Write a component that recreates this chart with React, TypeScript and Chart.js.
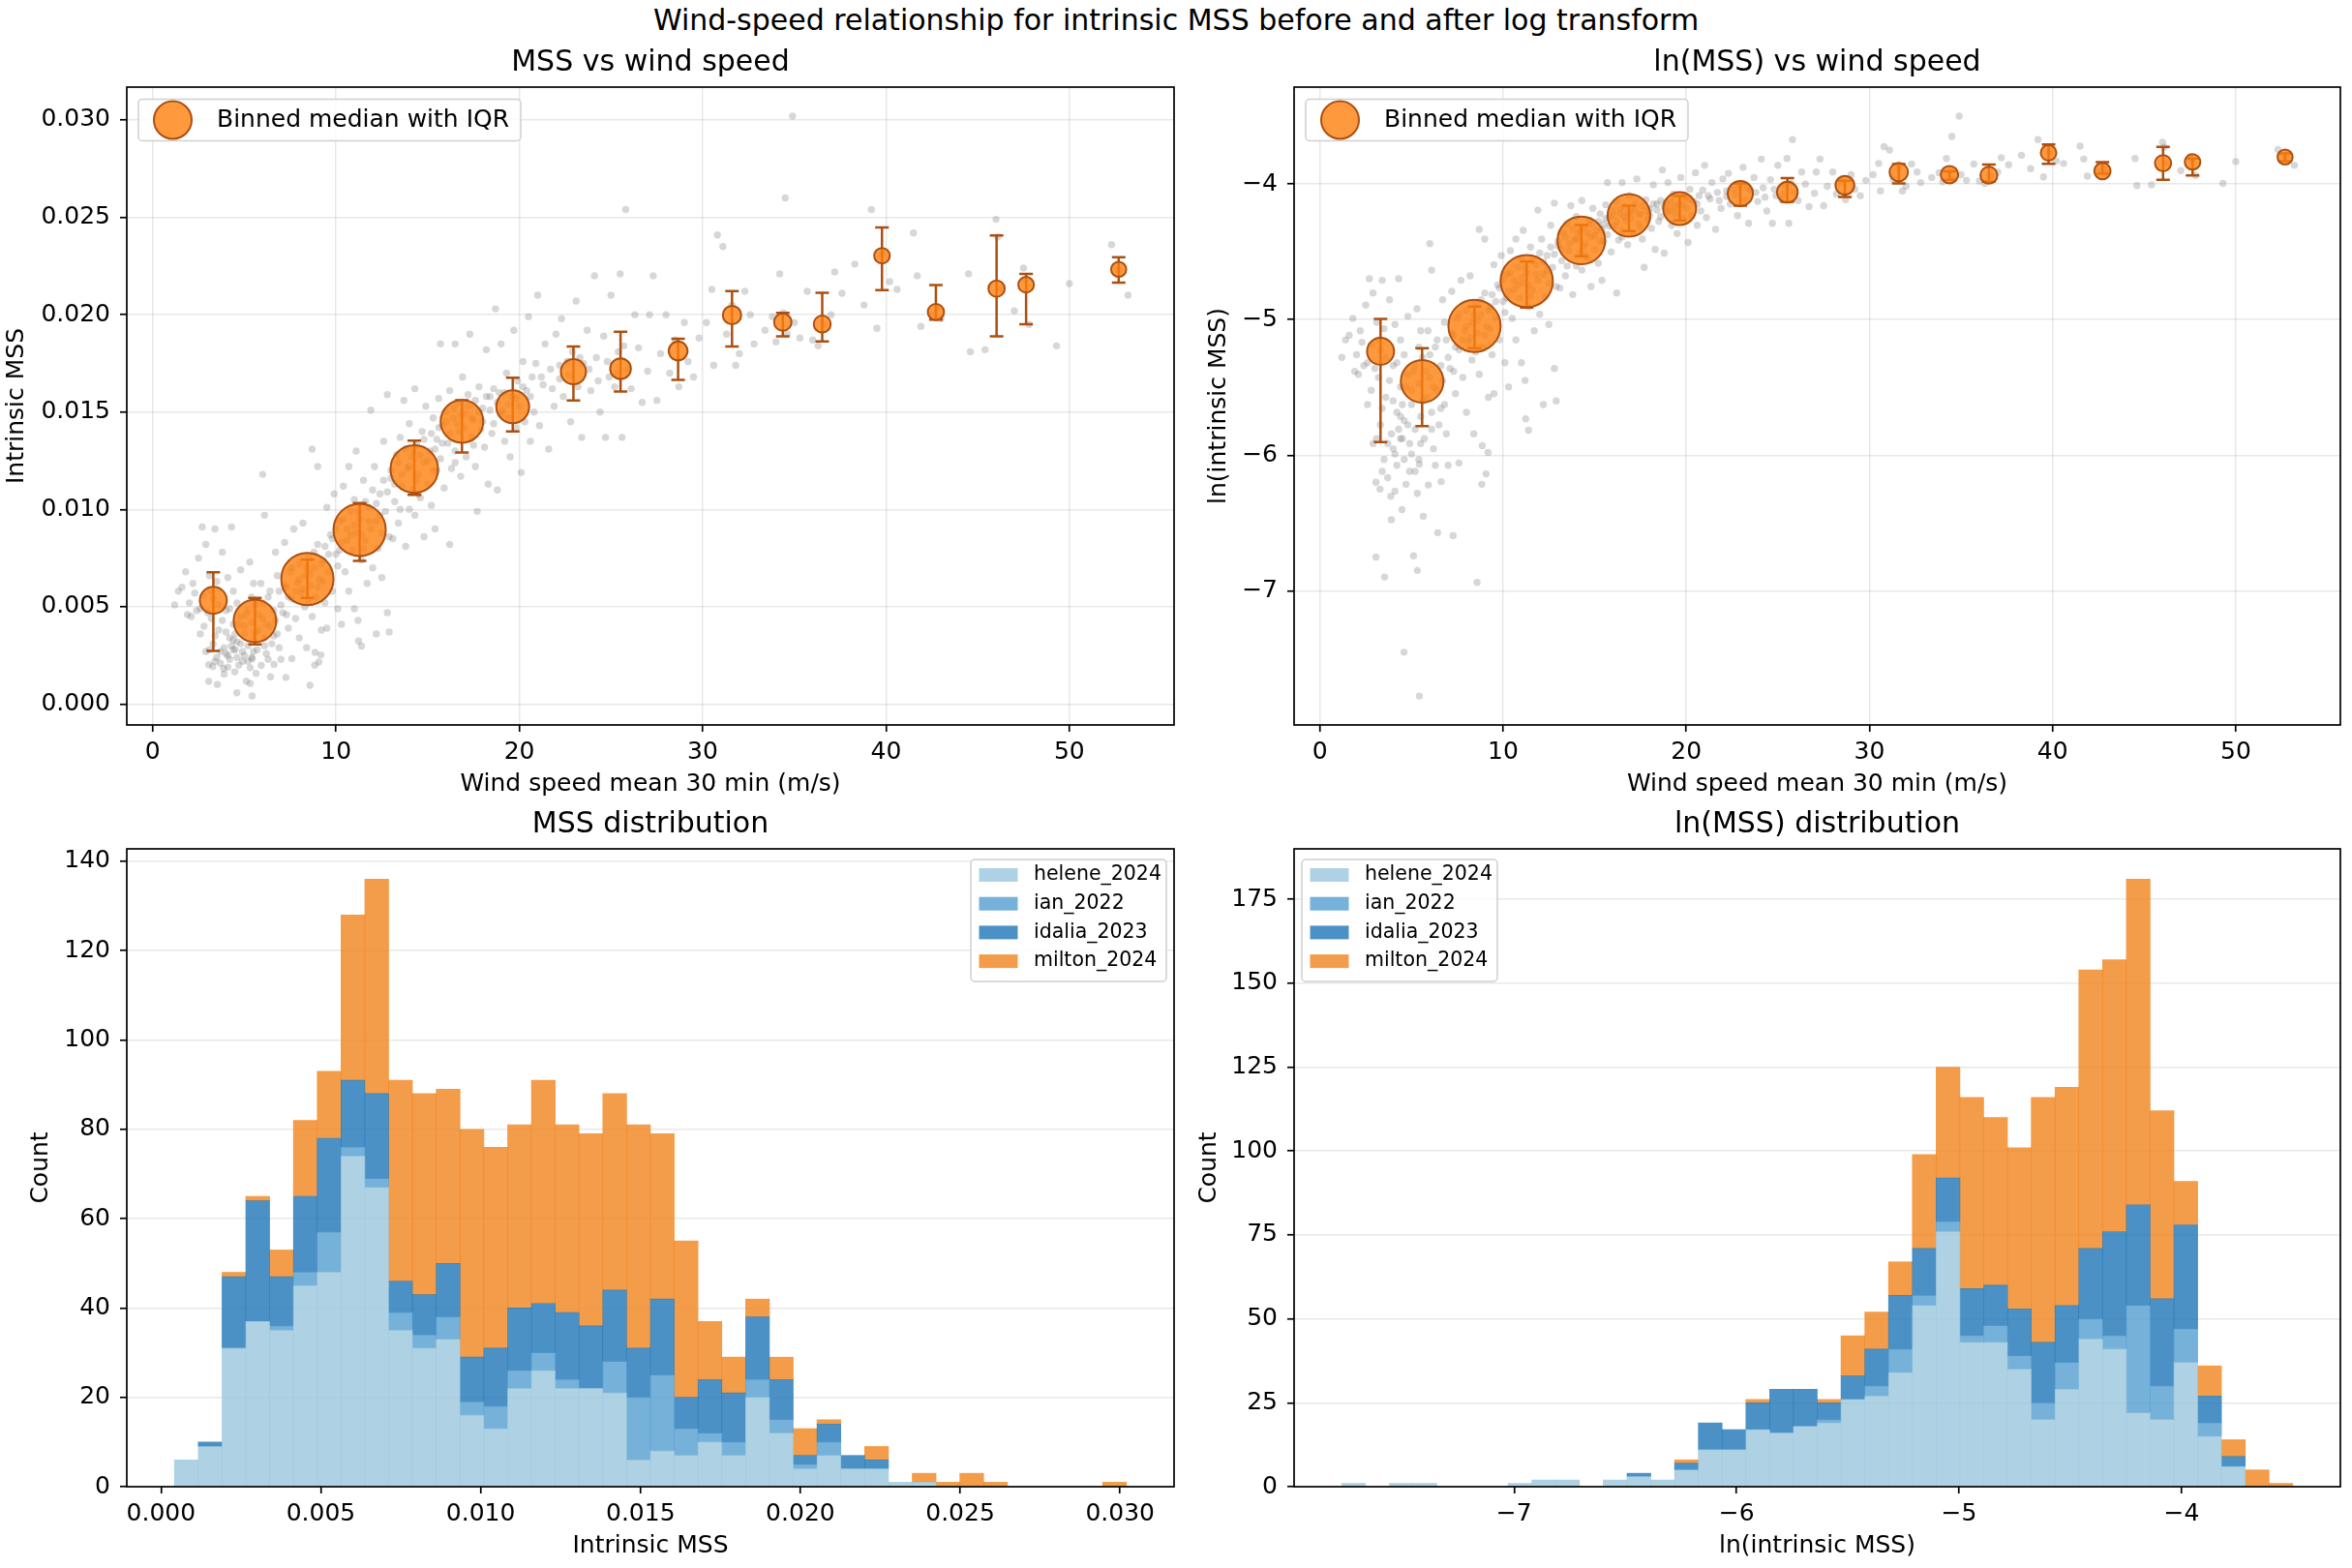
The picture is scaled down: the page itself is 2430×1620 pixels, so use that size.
import React, { useEffect, useRef } from 'react';
import { Chart, registerables } from 'chart.js';

Chart.register(...registerables);

const FONT = "'DejaVu Sans', 'Liberation Sans', sans-serif";
Chart.defaults.font.family = FONT;
Chart.defaults.color = '#000';

// gray cloud: [wind speed mean 30 min (m/s), intrinsic MSS]
const cloudPoints: [number, number][] = [
  [1.2, 0.0051], [1.4, 0.0058], [1.6, 0.006], [1.8, 0.0068], [1.9, 0.0046], [2.1, 0.0045], [2.2, 0.0062], [2.4, 0.0048],
  [2.5, 0.0075], [2.6, 0.0036], [2.7, 0.0091], [2.8, 0.0056], [2.9, 0.0027], [2.9, 0.0082], [3.06, 0.00117], [3.06, 0.00203],
  [3.1, 0.0066], [3.2, 0.0044], [3.28, 0.00193], [3.3, 0.0031], [3.3, 0.0054], [3.4, 0.009], [3.53, 0.00101], [3.5, 0.0024],
  [3.5, 0.0063], [3.6, 0.0038], [3.7, 0.0021], [3.8, 0.0078], [3.87, 0.00183], [3.9, 0.00154], [3.9, 0.0029], [4.0, 0.0048],
  [4.1, 0.0065], [4.1, 0.0025], [4.2, 0.0034], [4.3, 0.0091], [4.3, 0.003], [4.4, 0.0058], [4.48, 0.00166], [4.4, 0.0028],
  [4.0, 0.0026], [4.2, 0.0023], [4.5, 0.0028], [4.6, 0.0024], [4.8, 0.0031], [5.0, 0.0025], [5.2, 0.0022], [5.5, 0.0027],
  [4.7, 0.002], [4.4, 0.0033],
  [2.0, 0.0052], [2.3, 0.0057], [2.6, 0.0049], [2.8, 0.004], [3.0, 0.0047], [3.2, 0.0058], [3.4, 0.0035], [3.6, 0.0051],
  [3.8, 0.0043], [4.0, 0.0037], [4.2, 0.0049], [4.4, 0.0041], [4.6, 0.0052], [4.8, 0.0045], [5.0, 0.004], [3.1, 0.0028],
  [3.4, 0.0022], [3.7, 0.0027], [4.1, 0.0019], [4.5, 0.0036],
  [4.59, 0.00058], [4.6, 0.0032], [4.7, 0.0041], [4.8, 0.0069], [4.9, 0.0022], [4.9, 0.0027], [5.0, 0.0036], [5.11, 0.00118],
  [5.1, 0.0046], [5.2, 0.003], [5.32, 0.00187], [5.32, 0.00106], [5.3, 0.0073], [5.4, 0.0024], [5.4, 0.0042], [5.43, 0.00042],
  [5.43, 0.00232], [5.5, 0.0033], [5.6, 0.0051], [5.64, 0.00158], [5.7, 0.0028], [5.8, 0.0038], [5.92, 0.00199], [5.9, 0.0062],
  [6.0, 0.0118], [6.0, 0.0044], [6.1, 0.0034], [6.1, 0.0097], [6.2, 0.0026], [6.3, 0.0055], [6.3, 0.0023], [6.43, 0.0014],
  [6.4, 0.004], [6.5, 0.0031], [6.6, 0.0048], [6.62, 0.00204], [6.7, 0.0078], [6.8, 0.0036], [6.9, 0.0058], [6.9, 0.0029],
  [5.2, 0.0048], [5.4, 0.0055], [5.6, 0.0037], [5.8, 0.0046], [6.0, 0.0052], [6.2, 0.0041], [6.4, 0.0058], [6.6, 0.0035],
  [6.8, 0.0066], [7.0, 0.0051], [7.2, 0.0061], [7.4, 0.0055], [7.6, 0.007], [7.8, 0.0058], [5.5, 0.0062], [6.1, 0.003],
  [6.7, 0.0043], [7.3, 0.0046],
  [7.0, 0.0023], [7.1, 0.0047], [7.2, 0.0083], [7.27, 0.00137], [7.3, 0.006], [7.4, 0.0039], [7.5, 0.0068], [7.59, 0.00234],
  [7.6, 0.0054], [7.7, 0.009], [7.8, 0.0044], [7.9, 0.0062], [8.0, 0.0072], [8.0, 0.0034], [8.1, 0.0057], [8.2, 0.0093],
  [8.3, 0.005], [8.3, 0.0066], [8.4, 0.0029], [8.5, 0.0076], [8.58, 0.00097], [8.6, 0.0061], [8.7, 0.0131], [8.7, 0.0045],
  [8.8, 0.007], [8.84, 0.002], [8.86, 0.00266], [8.9, 0.0055], [9.0, 0.0122], [9.0, 0.0082], [9.07, 0.00216], [9.1, 0.0064],
  [9.18, 0.00253], [9.2, 0.0038], [9.3, 0.0074], [9.4, 0.0052], [9.5, 0.0101], [9.5, 0.0039], [9.6, 0.0068], [9.7, 0.0087],
  [9.8, 0.0058], [9.9, 0.0108],
  [8.0, 0.0064], [8.2, 0.0059], [8.4, 0.007], [8.6, 0.0067], [8.8, 0.0078], [9.0, 0.006], [9.2, 0.0072], [9.4, 0.0081],
  [9.6, 0.0077], [9.8, 0.0085], [10.0, 0.009], [10.2, 0.0079], [10.4, 0.0095], [10.6, 0.0084], [10.8, 0.0087], [8.5, 0.0053],
  [9.3, 0.0063], [10.1, 0.0071],
  [10.0, 0.0077], [10.1, 0.0049], [10.2, 0.0094], [10.3, 0.0041], [10.3, 0.0083], [10.4, 0.0112], [10.5, 0.0068], [10.6, 0.009],
  [10.7, 0.0122], [10.7, 0.0058], [10.8, 0.0099], [10.9, 0.0079], [11.0, 0.0049], [11.0, 0.0105], [11.1, 0.013], [11.1, 0.0088],
  [11.2, 0.0043], [11.23, 0.00324], [11.3, 0.0095], [11.39, 0.00298], [11.4, 0.0074], [11.5, 0.0115], [11.6, 0.0084], [11.7, 0.0062],
  [11.8, 0.0101], [11.9, 0.0151], [11.9, 0.009], [12.0, 0.007], [12.1, 0.0122], [12.2, 0.0036], [12.2, 0.0094], [12.3, 0.008],
  [12.4, 0.0108], [12.5, 0.0065], [12.6, 0.0135], [12.7, 0.0099], [12.8, 0.0047], [12.8, 0.0159], [12.9, 0.0086], [12.9, 0.0037],
  [11.0, 0.0092], [11.2, 0.0099], [11.4, 0.0087], [11.6, 0.0104], [11.8, 0.0094], [12.0, 0.011], [12.2, 0.0103], [12.4, 0.0097],
  [12.6, 0.0115], [12.8, 0.0109], [13.0, 0.012], [13.2, 0.0113], [13.4, 0.0124], [13.6, 0.0118], [13.8, 0.0131], [11.5, 0.008],
  [12.5, 0.0088], [13.5, 0.01],
  [13.0, 0.0116], [13.1, 0.0085], [13.2, 0.0104], [13.3, 0.0128], [13.4, 0.0093], [13.5, 0.0137], [13.6, 0.0112], [13.7, 0.0156],
  [13.8, 0.0081], [13.9, 0.0121], [14.0, 0.01], [14.0, 0.0144], [14.1, 0.0127], [14.2, 0.011], [14.3, 0.0097], [14.3, 0.0162],
  [14.4, 0.0133], [14.5, 0.0118], [14.6, 0.0106], [14.7, 0.014], [14.8, 0.0086], [14.8, 0.0124], [14.9, 0.0153], [15.0, 0.0113],
  [15.1, 0.013], [15.2, 0.0102], [15.3, 0.0147], [15.3, 0.012], [15.4, 0.009], [15.5, 0.0136],
  [14.0, 0.0122], [14.2, 0.013], [14.4, 0.0115], [14.6, 0.0128], [14.8, 0.0136], [15.0, 0.0125], [15.2, 0.0139], [15.4, 0.0131],
  [15.6, 0.0142], [15.8, 0.0134], [16.0, 0.0145], [16.2, 0.0139], [16.4, 0.0152], [16.6, 0.0144], [16.8, 0.0148], [14.5, 0.0108],
  [15.5, 0.012], [16.5, 0.0124],
  [15.6, 0.0157], [15.7, 0.0185], [15.7, 0.0126], [15.8, 0.0143], [15.9, 0.0111], [16.0, 0.015], [16.1, 0.0134], [16.2, 0.0082],
  [16.2, 0.0161], [16.3, 0.0121], [16.4, 0.0147], [16.5, 0.0185], [16.5, 0.013], [16.6, 0.0155], [16.7, 0.014], [16.8, 0.0117],
  [16.9, 0.0168], [17.0, 0.0149], [17.1, 0.0127], [17.2, 0.0159], [17.3, 0.019], [17.4, 0.0137], [17.5, 0.0146], [17.6, 0.0122],
  [17.7, 0.0099], [17.8, 0.0163], [17.9, 0.0141], [18.0, 0.0152], [18.1, 0.0132], [18.2, 0.0182], [18.3, 0.0113], [18.4, 0.0158],
  [17.0, 0.0142], [17.2, 0.0153], [17.4, 0.0147], [17.6, 0.0156], [17.8, 0.015], [18.0, 0.0145], [18.2, 0.0158], [18.4, 0.0151],
  [18.6, 0.0162], [18.8, 0.0155], [19.0, 0.0149], [19.2, 0.016], [19.4, 0.0154], [19.8, 0.0157], [20.2, 0.0163], [20.6, 0.0158],
  [17.5, 0.0133], [18.5, 0.0139],
  [18.6, 0.0144], [18.7, 0.0203], [18.8, 0.011], [18.9, 0.016], [19.0, 0.0185], [19.1, 0.0151], [19.2, 0.0135], [19.3, 0.017],
  [19.4, 0.0147], [19.5, 0.0127], [19.6, 0.0158], [19.7, 0.0192], [19.8, 0.0142], [19.9, 0.0166], [20.0, 0.0153], [20.1, 0.0119],
  [20.2, 0.0176], [20.3, 0.0145], [20.4, 0.0161], [20.5, 0.0199], [20.6, 0.0135], [20.7, 0.0168], [20.8, 0.015], [20.9, 0.0175],
  [21.0, 0.021], [21.1, 0.0143], [21.3, 0.0164], [21.4, 0.0185], [21.6, 0.0131], [21.7, 0.0172], [21.9, 0.0153], [22.0, 0.019],
  [22.2, 0.0167], [22.3, 0.0198], [22.4, 0.0158], [22.6, 0.0176], [22.8, 0.0145], [22.9, 0.0181], [23.1, 0.0207], [23.2, 0.0163],
  [23.4, 0.0137], [23.5, 0.0175], [23.7, 0.0192], [23.9, 0.0161],
  [21.2, 0.0168], [21.8, 0.0162], [22.2, 0.0174], [22.7, 0.0169], [23.3, 0.0178], [23.8, 0.0172], [24.3, 0.0166], [24.8, 0.0176],
  [25.3, 0.017], [25.7, 0.0184],
  [24.1, 0.022], [24.2, 0.0178], [24.4, 0.015], [24.6, 0.0189], [24.7, 0.0137], [24.9, 0.0168], [25.0, 0.021], [25.2, 0.0163],
  [25.4, 0.0181], [25.5, 0.0221], [25.6, 0.0137], [25.8, 0.0254], [25.9, 0.0172], [26.1, 0.0162], [26.3, 0.02], [26.5, 0.0183],
  [26.7, 0.0155], [27.0, 0.0171],
  [27.1, 0.02], [27.3, 0.022], [27.5, 0.0156], [27.7, 0.018], [28.0, 0.02], [28.2, 0.017], [28.5, 0.0187], [28.7, 0.0163],
  [29.0, 0.0196], [29.2, 0.0176], [29.5, 0.0168], [29.8, 0.0188],
  [30.2, 0.0196], [30.5, 0.0213], [30.6, 0.0174], [30.8, 0.0241], [31.1, 0.0235], [31.3, 0.019], [31.6, 0.0205], [31.8, 0.0174],
  [32.0, 0.018], [32.3, 0.0212], [32.6, 0.02], [32.8, 0.0185],
  [33.4, 0.0192], [33.8, 0.0199], [34.0, 0.0186], [34.2, 0.0221], [34.4, 0.0201], [34.5, 0.026], [34.6, 0.019], [34.9, 0.0302],
  [35.0, 0.0196], [35.3, 0.0188],
  [35.7, 0.0212], [36.0, 0.0187], [36.3, 0.0184], [36.6, 0.0195], [37.0, 0.02], [37.2, 0.0222], [37.6, 0.0211],
  [38.3, 0.0226], [38.8, 0.0205], [39.2, 0.0254], [39.5, 0.0193], [39.8, 0.0231], [40.2, 0.0217], [40.6, 0.0213],
  [41.5, 0.0242], [41.7, 0.022], [41.9, 0.0194], [42.5, 0.02], [42.8, 0.0203], [43.0, 0.0198],
  [44.5, 0.0221], [44.6, 0.0181], [45.4, 0.0182], [46.0, 0.0249], [46.1, 0.024], [46.2, 0.0213], [47.0, 0.0202], [47.5, 0.0224],
  [47.6, 0.0218], [47.8, 0.0195],
  [49.3, 0.0184], [50.0, 0.0216], [52.3, 0.0236], [52.7, 0.0223], [53.2, 0.021],
];

// binned medians with inter-quartile range
const binWind = [3.31, 5.58, 8.44, 11.29, 14.27, 16.87, 19.64, 22.95, 25.52, 28.66, 31.6, 34.37, 36.52, 39.78, 42.72, 46.03, 47.64, 52.69];
const binMedian = [0.00533, 0.00427, 0.00643, 0.00895, 0.01207, 0.01452, 0.01527, 0.01707, 0.01723, 0.01814, 0.01998, 0.01962, 0.01952, 0.02303, 0.02014, 0.02134, 0.02154, 0.02233];
const binQ1 = [0.00273, 0.00307, 0.00546, 0.00736, 0.01075, 0.01293, 0.014, 0.01559, 0.01605, 0.01665, 0.01837, 0.01889, 0.01863, 0.02126, 0.01975, 0.01889, 0.01951, 0.02165];
const binQ3 = [0.00677, 0.00546, 0.00742, 0.01033, 0.01353, 0.01561, 0.01676, 0.01837, 0.01912, 0.01876, 0.02121, 0.02009, 0.02113, 0.02448, 0.02152, 0.02407, 0.02209, 0.02295];
const binCount = [70, 215, 337, 337, 275, 215, 117, 57, 30, 20, 18, 13, 11, 5, 8, 8, 5, 3];

// stacked histograms, 40 bins each
const storms = ['helene_2024', 'ian_2022', 'idalia_2023', 'milton_2024'];
const mssBinStart = 0.00042;
const mssBinWidth = 0.0007445;
const mssHelene = [6, 9, 31, 37, 35, 45, 48, 74, 67, 35, 31, 33, 16, 13, 22, 26, 22, 22, 21, 6, 8, 7, 10, 7, 20, 12, 4, 7, 4, 4, 1, 1, 0, 0, 0, 0, 0, 0, 0, 0];
const mssIan = [0, 0, 0, 0, 1, 3, 9, 2, 2, 4, 3, 5, 3, 5, 4, 4, 2, 0, 7, 14, 17, 6, 2, 3, 4, 3, 1, 3, 0, 0, 0, 0, 0, 0, 0, 0, 0, 0, 0, 0];
const mssIdalia = [0, 1, 16, 27, 11, 17, 21, 15, 19, 7, 9, 12, 10, 13, 14, 11, 15, 14, 16, 11, 17, 7, 12, 11, 14, 9, 2, 4, 3, 2, 0, 0, 0, 0, 0, 0, 0, 0, 0, 0];
const mssMilton = [0, 0, 1, 1, 6, 17, 15, 37, 48, 45, 45, 39, 51, 45, 41, 50, 42, 43, 44, 50, 37, 35, 13, 8, 4, 5, 6, 1, 0, 3, 0, 2, 1, 3, 1, 0, 0, 0, 0, 1];

const lnBinStart = -7.775;
const lnBinWidth = 0.106875;
const lnHelene = [1, 0, 1, 1, 0, 0, 0, 1, 2, 2, 0, 2, 3, 2, 5, 11, 11, 17, 16, 18, 19, 26, 27, 34, 54, 76, 43, 43, 35, 20, 29, 44, 41, 22, 20, 37, 15, 6, 0, 0];
const lnIan = [0, 0, 0, 0, 0, 0, 0, 0, 0, 0, 0, 0, 0, 0, 0, 0, 0, 0, 0, 0, 1, 0, 3, 7, 3, 3, 2, 5, 4, 5, 8, 6, 4, 32, 10, 10, 4, 0, 0, 0];
const lnIdalia = [0, 0, 0, 0, 0, 0, 0, 0, 0, 0, 0, 0, 1, 0, 2, 8, 6, 8, 13, 11, 5, 7, 11, 16, 14, 13, 14, 12, 14, 18, 17, 21, 31, 30, 26, 31, 8, 3, 0, 0];
const lnMilton = [0, 0, 0, 0, 0, 0, 0, 0, 0, 0, 0, 0, 0, 0, 1, 0, 0, 1, 0, 0, 1, 12, 11, 10, 28, 33, 57, 50, 48, 73, 65, 83, 81, 97, 56, 13, 9, 5, 5, 1];

const stormColors = ['rgba(154,199,221,0.8)', 'rgba(83,158,206,0.8)', 'rgba(30,117,183,0.8)', 'rgba(240,131,27,0.8)'];
const ORANGE = 'rgba(255,127,14,0.8)';
const EDGE = 'rgb(172,80,18)';
const GRID = 'rgba(0,0,0,0.09)';

const minus = (v: number) => (v < 0 ? '\u2212' + Math.abs(v) : String(v));
const markerRadius = (n: number) => Math.sqrt(55 + 2 * n);

function xAxis(min: number, max: number, step: number, title: string, fmt: (v: number) => string, gridOn = true) {
  return {
    type: 'linear', position: 'bottom', min, max, offset: false, stacked: true,
    afterFit: (s: any) => { s.height = 76; },
    border: { display: false },
    grid: { drawOnChartArea: gridOn, offset: false, color: GRID, lineWidth: 1.5, tickLength: 7, tickColor: '#000', tickWidth: 1.7 },
    ticks: { stepSize: step, includeBounds: false, autoSkip: false, maxRotation: 0, padding: 6, color: '#000', font: { size: 25 }, callback: (v: any) => fmt(Number(v)) },
    title: { display: true, text: title, color: '#000', font: { size: 25 }, padding: { top: 0, bottom: 0 } },
  };
}

function yAxis(min: number, max: number, step: number, title: string, fmt: (v: number) => string, width: number, stacked = false) {
  return {
    type: 'linear', position: 'left', min, max, stacked,
    afterFit: (s: any) => { s.width = width; },
    border: { display: false },
    grid: { color: GRID, lineWidth: 1.5, tickLength: 7, tickColor: '#000', tickWidth: 1.7 },
    ticks: { stepSize: step, includeBounds: false, autoSkip: false, padding: 10, color: '#000', font: { size: 25 }, callback: (v: any) => fmt(Number(v)) },
    title: { display: true, text: title, color: '#000', font: { size: 25 }, padding: { top: 2, bottom: 0 } },
  };
}

function framePlugin(title: string) {
  return {
    id: 'frameAndTitle',
    afterDatasetsDraw(chart: any) {
      const { ctx, chartArea: a } = chart;
      ctx.save();
      ctx.strokeStyle = '#000';
      ctx.lineWidth = 1.7;
      ctx.strokeRect(a.left, a.top, a.right - a.left, a.bottom - a.top);
      ctx.fillStyle = '#000';
      ctx.font = `30px ${FONT}`;
      ctx.textAlign = 'center';
      ctx.textBaseline = 'middle';
      ctx.fillText(title, (a.left + a.right) / 2, a.top - 25);
      ctx.restore();
    },
  };
}

function errorBarPlugin(ys: (v: number) => number) {
  return {
    id: 'errorBars',
    beforeDatasetDraw(chart: any, args: any) {
      if (args.index !== 0) return;
      const { ctx, scales } = chart;
      ctx.save();
      ctx.strokeStyle = EDGE;
      ctx.lineWidth = 2.5;
      binWind.forEach((w, i) => {
        const px = scales.x.getPixelForValue(w);
        const lo = scales.y.getPixelForValue(ys(binQ1[i]));
        const hi = scales.y.getPixelForValue(ys(binQ3[i]));
        ctx.beginPath();
        ctx.moveTo(px, lo); ctx.lineTo(px, hi);
        ctx.moveTo(px - 7, lo); ctx.lineTo(px + 7, lo);
        ctx.moveTo(px - 7, hi); ctx.lineTo(px + 7, hi);
        ctx.stroke();
      });
      ctx.restore();
    },
  };
}

const binLegendPlugin = {
  id: 'binLegend',
  afterDraw(chart: any) {
    const { ctx, chartArea: a } = chart;
    const bx = a.left + 12, by = a.top + 12.5;
    ctx.save();
    ctx.beginPath();
    ctx.roundRect(bx, by, 395, 43, 4);
    ctx.fillStyle = 'rgba(255,255,255,0.8)';
    ctx.fill();
    ctx.strokeStyle = '#d0d0d0';
    ctx.lineWidth = 1.5;
    ctx.stroke();
    ctx.beginPath();
    ctx.arc(bx + 35.5, by + 21.5, 19.5, 0, Math.PI * 2);
    ctx.fillStyle = ORANGE;
    ctx.fill();
    ctx.strokeStyle = EDGE;
    ctx.lineWidth = 2;
    ctx.stroke();
    ctx.fillStyle = '#000';
    ctx.font = `25px ${FONT}`;
    ctx.textBaseline = 'middle';
    ctx.fillText('Binned median with IQR', bx + 81, by + 22);
    ctx.restore();
  },
};

function histLegendPlugin(side: 'left' | 'right') {
  return {
    id: 'histLegend',
    afterDraw(chart: any) {
      const { ctx, chartArea: a } = chart;
      const w = 202, h = 126;
      const bx = side === 'right' ? a.right - 8 - w : a.left + 8;
      const by = a.top + 11;
      ctx.save();
      ctx.beginPath();
      ctx.roundRect(bx, by, w, h, 4);
      ctx.fillStyle = 'rgba(255,255,255,0.8)';
      ctx.fill();
      ctx.strokeStyle = '#d0d0d0';
      ctx.lineWidth = 1.5;
      ctx.stroke();
      ctx.font = `20.5px ${FONT}`;
      ctx.textBaseline = 'middle';
      storms.forEach((name, i) => {
        const cy = by + 16 + i * 29.7;
        ctx.fillStyle = stormColors[i];
        ctx.fillRect(bx + 8.5, cy - 7, 40, 14);
        ctx.fillStyle = '#000';
        ctx.fillText(name, bx + 65, cy);
      });
      ctx.restore();
    },
  };
}

function scatterConfig(log: boolean) {
  const f = (v: number) => (log ? Math.log(v) : v);
  return {
    type: 'scatter',
    data: {
      datasets: [
        {
          data: binWind.map((w, i) => ({ x: w, y: f(binMedian[i]) })),
          pointRadius: binCount.map(markerRadius),
          pointHoverRadius: binCount.map(markerRadius),
          pointBackgroundColor: ORANGE,
          pointBorderColor: EDGE,
          pointBorderWidth: 2,
        },
        {
          data: cloudPoints.map(([w, m]) => ({ x: w, y: f(m) })),
          pointRadius: 3.7,
          pointHoverRadius: 3.7,
          pointBackgroundColor: 'rgba(110,110,110,0.28)',
          pointBorderWidth: 0,
        },
      ],
    },
    options: {
      responsive: false,
      animation: false,
      events: [],
      layout: { autoPadding: false, padding: { top: 50, right: 12, bottom: 0, left: 0 } },
      plugins: { legend: { display: false }, tooltip: { enabled: false } },
      scales: {
        x: xAxis(-1.41, 55.71, 10, 'Wind speed mean 30 min (m/s)', (v) => String(v)),
        y: log
          ? yAxis(-7.98875, -3.28625, 1, 'ln(intrinsic MSS)', minus, 95)
          : yAxis(-0.00107, 0.03169, 0.005, 'Intrinsic MSS', (v) => v.toFixed(3), 131),
      },
    },
    plugins: [errorBarPlugin(f), framePlugin(log ? 'ln(MSS) vs wind speed' : 'MSS vs wind speed'), binLegendPlugin],
  };
}

function histConfig(log: boolean) {
  const start = log ? lnBinStart : mssBinStart;
  const width = log ? lnBinWidth : mssBinWidth;
  const series = log ? [lnHelene, lnIan, lnIdalia, lnMilton] : [mssHelene, mssIan, mssIdalia, mssMilton];
  return {
    type: 'bar',
    data: {
      datasets: series.map((counts, k) => ({
        label: storms[k],
        data: counts.map((c, i) => ({ x: start + (i + 0.5) * width, y: c === 0 ? null : c })),
        backgroundColor: stormColors[k],
        borderWidth: 0,
        barPercentage: 1,
        categoryPercentage: 1,
      })),
    },
    options: {
      responsive: false,
      animation: false,
      events: [],
      layout: { autoPadding: false, padding: { top: 52, right: 12, bottom: 0, left: 0 } },
      plugins: { legend: { display: false }, tooltip: { enabled: false } },
      scales: {
        x: log
          ? xAxis(-7.98875, -3.28625, 1, 'ln(intrinsic MSS)', minus, false)
          : xAxis(-0.00107, 0.03169, 0.005, 'Intrinsic MSS', (v) => v.toFixed(3), false),
        y: log
          ? yAxis(0, 190.05, 25, 'Count', (v) => String(v), 105, true)
          : yAxis(0, 142.8, 20, 'Count', (v) => String(v), 106, true),
      },
    },
    plugins: [framePlugin(log ? 'ln(MSS) distribution' : 'MSS distribution'), histLegendPlugin(log ? 'left' : 'right')],
  };
}

function Panel({ left, top, width, height, make }: { left: number; top: number; width: number; height: number; make: () => any }) {
  const canvasRef = useRef<HTMLCanvasElement>(null);
  useEffect(() => {
    if (!canvasRef.current) return;
    const chart = new Chart(canvasRef.current, make());
    return () => chart.destroy();
  }, []);
  return (
    <canvas
      ref={canvasRef}
      width={width}
      height={height}
      style={{ position: 'absolute', left, top, width, height }}
    />
  );
}

export default function App() {
  return (
    <div style={{ position: 'absolute', left: 0, top: 0, width: 2430, height: 1620, background: '#fff', overflow: 'hidden' }}>
      <div
        style={{
          position: 'absolute', left: 0, top: 3, width: 2430, textAlign: 'center',
          fontFamily: FONT, fontSize: 30, lineHeight: '36px', color: '#000',
        }}
      >
        Wind-speed relationship for intrinsic MSS before and after log transform
      </div>
      <Panel left={0} top={40} width={1225} height={785} make={() => scatterConfig(false)} />
      <Panel left={1242} top={40} width={1188} height={785} make={() => scatterConfig(true)} />
      <Panel left={25} top={825} width={1200} height={787} make={() => histConfig(false)} />
      <Panel left={1232} top={825} width={1198} height={787} make={() => histConfig(true)} />
    </div>
  );
}
